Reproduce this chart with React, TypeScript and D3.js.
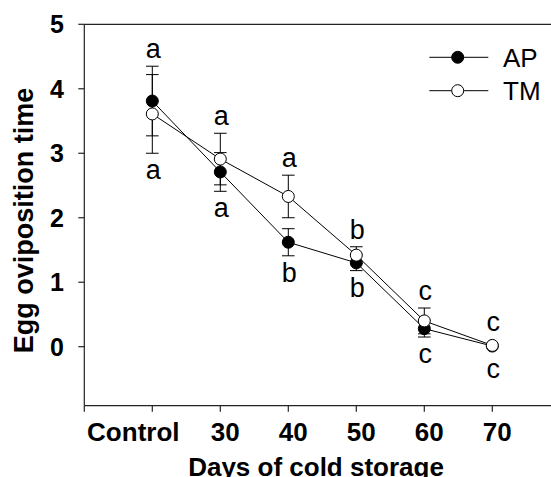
import * as d3 from "d3";

// egg oviposition time by days of cold storage
const categories = ["Control", "30", "40", "50", "60", "70"];
const apMean = [3.81, 2.71, 1.62, 1.3, 0.28, 0.01];
const apErr = [0.54, 0.3, 0.21, 0.12, 0.13, 0];
const tmMean = [3.61, 2.91, 2.33, 1.42, 0.4, 0.02];
const tmErr = [0.61, 0.4, 0.33, 0.13, 0.2, 0];
const upperLetters = ["a", "a", "a", "b", "c", "c"];
const lowerLetters = ["a", "a", "b", "b", "c", "c"];
const yTicks = [0, 1, 2, 3, 4, 5];

const W = 551;
const H = 477;
const font = "'Liberation Sans', Arial, sans-serif";

const x = d3.scaleLinear().domain([0, 7]).range([84.3, 560.3]);
const y = d3.scaleLinear().domain([-0.915, 5]).range([405.7, 24.3]);

const series = [
  { name: "AP", mean: apMean, err: apErr, fill: "#000" },
  { name: "TM", mean: tmMean, err: tmErr, fill: "#fff" },
];

const line = d3
  .line<number>()
  .x((_, i) => x(i + 1))
  .y((d) => y(d));

const T = ({ x0, y0, size, bold, anchor, rotate, children }: any) => (
  <text
    transform={`translate(${x0},${y0})${rotate ? " rotate(-90)" : ""}`}
    fontFamily={font}
    fontSize={size}
    fontWeight={bold ? "bold" : "normal"}
    textAnchor={anchor || "middle"}
    fill="#000"
  >
    {children}
  </text>
);

const App = () => {
  const r = 6;
  const cap = 6.3;
  return (
    <svg
      width={W}
      height={H}
      viewBox={`0 0 ${W} ${H}`}
      style={{ position: "absolute", left: 0, top: 0, background: "#fff" }}
    >
      {/* frame and axes */}
      <g stroke="#222" strokeWidth={1.2} fill="none">
        <line x1={x(0)} x2={x(7)} y1={y(5)} y2={y(5)} />
        <line x1={x(0)} x2={x(7)} y1={y(-0.915)} y2={y(-0.915)} />
        <line x1={x(0)} x2={x(0)} y1={y(5)} y2={y(-0.915)} />
        {d3.range(0, 8).map((i) => (
          <line key={i} x1={x(i)} x2={x(i)} y1={y(-0.915)} y2={y(-0.915) + 6} />
        ))}
        {yTicks.map((t) => (
          <line key={t} x1={x(0) - 6} x2={x(0)} y1={y(t)} y2={y(t)} />
        ))}
      </g>
      {yTicks.map((t) => (
        <T key={t} x0={64} y0={y(t) + 9} size={25} bold anchor="end">
          {t}
        </T>
      ))}
      {categories.map((c, i) => (
        <T key={c} x0={x(i + 1) + (i === 0 ? -19 : 5)} y0={441} size={26} bold>
          {c}
        </T>
      ))}
      <T x0={316} y0={476} size={26} bold>
        Days of cold storage
      </T>
      <T x0={33} y0={220.5} size={27} bold rotate>
        Egg oviposition time
      </T>

      {/* series */}
      {series.map((s) => (
        <g key={s.name}>
          <path d={line(s.mean) || ""} fill="none" stroke="#000" strokeWidth={1} />
          {s.mean.map((m, i) =>
            s.err[i] > 0 ? (
              <g key={i} stroke="#000" strokeWidth={1}>
                <line x1={x(i + 1)} x2={x(i + 1)} y1={y(m + s.err[i])} y2={y(m - s.err[i])} />
                <line x1={x(i + 1) - cap} x2={x(i + 1) + cap} y1={y(m + s.err[i])} y2={y(m + s.err[i])} />
                <line x1={x(i + 1) - cap} x2={x(i + 1) + cap} y1={y(m - s.err[i])} y2={y(m - s.err[i])} />
              </g>
            ) : null
          )}
          {s.mean.map((m, i) => (
            <circle key={i} cx={x(i + 1)} cy={y(m)} r={r} fill={s.fill} stroke="#000" strokeWidth={1} />
          ))}
        </g>
      ))}

      {/* significance letters */}
      {categories.map((c, i) => {
        const tops = series.map((s) => Math.min(y(s.mean[i] + s.err[i]), y(s.mean[i]) - 6));
        const bots = series.map((s) => Math.max(y(s.mean[i] - s.err[i]), y(s.mean[i]) + 6));
        return (
          <g key={c}>
            <T x0={x(i + 1) + 1} y0={Math.min(...tops) - 8} size={27}>
              {upperLetters[i]}
            </T>
            <T x0={x(i + 1) + 1} y0={Math.max(...bots) + 26} size={27}>
              {lowerLetters[i]}
            </T>
          </g>
        );
      })}

      {/* legend */}
      {series.map((s, i) => (
        <g key={s.name}>
          <line x1={429.3} x2={488.3} y1={57.3 + i * 33.4} y2={57.3 + i * 33.4} stroke="#000" strokeWidth={1} />
          <circle cx={457.7} cy={57.3 + i * 33.4} r={r} fill={s.fill} stroke="#000" strokeWidth={1} />
          <T x0={503} y0={66.8 + i * 33.4} size={26} anchor="start">
            {s.name}
          </T>
        </g>
      ))}
    </svg>
  );
};

export default App;
